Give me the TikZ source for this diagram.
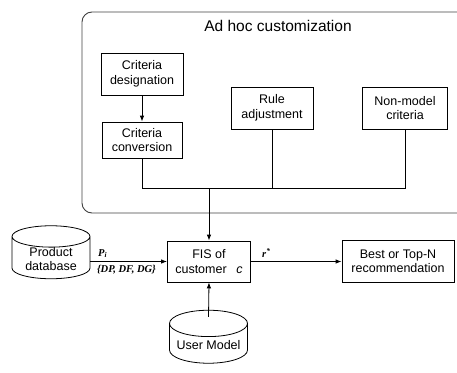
\documentclass[tikz,border=0pt]{standalone}
\usepackage{fontspec}
\setmainfont{Liberation Sans}
\newfontfamily\labelfont{Liberation Serif}
\usetikzlibrary{shapes.geometric, arrows.meta}
\tikzset{
    every node/.style={font=\fontsize{12.5}{14.5}\selectfont, align=center},
    procbox/.style={draw, line width=.8pt, inner sep=1pt},
    store/.style={draw, cylinder, shape border rotate=90, aspect=.4,
        line width=.8pt, minimum width=78pt, minimum height=53pt,
        inner xsep=1pt, inner ysep=-4pt},
    link/.style={line width=.8pt},
    flow/.style={line width=.8pt, -{Latex[length=6pt, width=4.5pt]}},
    flowlabel/.style={font=\labelfont\bfseries\itshape\fontsize{10.5}{11}\selectfont},
}

\begin{document}
\begin{tikzpicture}[x=1pt, y=-1pt]
    \useasboundingbox (0,0) rectangle (457,372);
    \clip (0,0) rectangle (457,372);
    % customization frame
    \draw[line width=.9pt, black!75, rounded corners=10pt] (82,12) rectangle (475,213);
    \node (title) at (278,26) {\fontsize{15.5}{17}\selectfont Ad hoc customization};
    \node[procbox, minimum width=82pt, minimum height=42pt] (desig) at (142,74)
        {Criteria\\designation};
    \node[procbox, minimum width=80pt, minimum height=36pt] (conv) at (142,140)
        {Criteria\\conversion};
    \node[procbox, minimum width=82pt, minimum height=42pt] (rule) at (272,108)
        {Rule\\adjustment};
    \node[procbox, minimum width=85pt, minimum height=42pt] (nonmodel) at (405,108)
        {Non-model\\criteria};
    \coordinate (bus) at (209,188);
    \draw[flow] (desig) -- (conv);
    \draw[link] (conv.south) -- (conv.south |- bus) -- (nonmodel.south |- bus)
        -- (nonmodel.south);
    \draw[link] (rule.south) -- (rule.south |- bus);
    % main flow
    \node[procbox, minimum width=83pt, minimum height=41pt] (fis) at (209,261.5)
        {FIS of\\customer \enspace\textit{c}};
    \node[procbox, minimum width=112pt, minimum height=42pt] (best) at (398,261.5)
        {Best or Top-N\\recommendation};
    \node[store] (proddb) at (51,259) {Product\\database};
    \node[store] (usermodel) at (208.5,345) {User Model};
    \draw[flow] (bus) -- (fis.north);
    \draw[flow] (proddb.east |- fis.west) -- (fis.west)
        node[flowlabel, pos=.16, above] {P\textsubscript{i}}
        node[flowlabel, pos=.47, below] {\{DP, DF, DG\}};
    \draw[flow] (fis.east) -- (best.west)
        node[flowlabel, pos=.17, above] {r\textsuperscript{*}};
    \draw[flow] ([yshift=-7pt]usermodel.top) -- (fis.south);
\end{tikzpicture}
\end{document}
